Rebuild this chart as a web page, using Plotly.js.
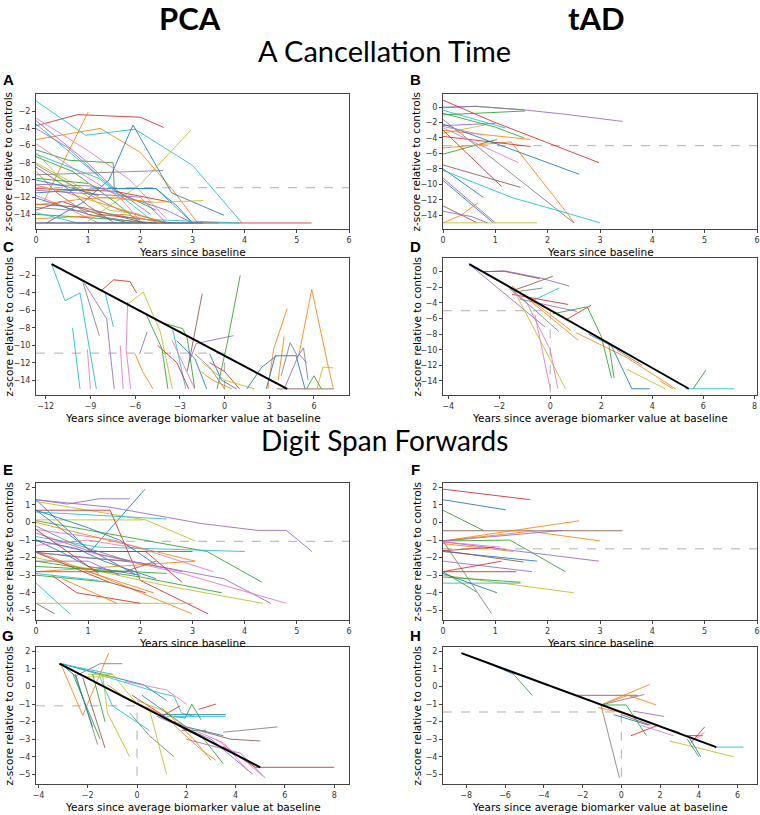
<!DOCTYPE html>
<html><head><meta charset="utf-8">
<script src="https://cdn.plot.ly/plotly-3.0.1.min.js"></script>
<style>html,body{margin:0;padding:0;background:#fff}#chart{width:760px;height:815px}</style>
</head><body><div id="chart"></div>
<script>
// ---------- DATA ----------
// Panel A: PCA, A Cancellation Time, years since baseline
const A_x = [[0,0.8,2.0,2.45],[0,1.23,2.0,2.6,3.1],[0,0.62,1.48,1.5,2.3],[0,0.95,1.9,3.0,3.95],[0.2,0.9,1.4,1.86,2.6,3.6],[1.0,2.0,2.97],[0,2.44],[0,1.0,1.8,2.5],[0,0.9,1.5,2.2],[0.15,1.0],[0,1.48,2.3,3.0],[0,1.5,2.6],[0,1.2,2.3,2.7,3.0],[0,0.8,1.6,2.5],[0,0.5,1.0,1.5],[0,1.2,2.3,3.2],[0,0.7,1.5,2.0],[0,0.5,1.2,2.0,2.6],[0,0.6,1.4,2.5],[0,1.1,2.5,3.0],[0,0.5,1.2],[0,1.0,1.8],[0,1.3,2.3],[0,0.8,2.0,3.5],[0,2.5,5.28],[0,2.0,3.2],[0,0.4,1.0,2.0],[0,0.9,2.1],[0,1.7,2.4],[0,0.5,1.4,2.0],[0,0.8,1.6,2.0],[0,1.0,2.0,2.5],[0,1.2,2.2,3.9],[0,1.0],[0,0.6,1.2],[0,0.6,1.2],[0,0.9,1.5,2.2],[0,1.3,2.0]];
const A_y = [[-3.7,-2.4,-2.7,-3.9],[-5.3,-4.0,-6.8,-11,-15],[-6.5,-7.7,-8.0,-11.2,-13.5],[-0.8,-4.8,-4.1,-8.3,-15],[-15,-12.6,-10,-3.6,-11.5,-14.1],[-14.8,-10.5,-4.2],[-9.4,-8.9],[-2.8,-6.6,-10,-14.5],[-3.1,-7.5,-11,-14],[-12.5,-2.1],[-3.5,-11.0,-11.0,-15],[-11,-11.3,-12.6],[-11.5,-11.0,-11.0,-13,-15],[-8.2,-11,-13.5,-15],[-8.5,-10.5,-13,-15],[-8,-12,-12.6,-12.4],[-7.3,-9,-12.5,-15],[-13.5,-12.5,-14,-14.5,-15],[-10.6,-11.5,-13,-15],[-10.5,-10.7,-13.5,-15],[-11.8,-13,-15],[-12.1,-14,-15],[-14,-14.5,-15],[-13.8,-15,-15,-15],[-15,-15,-15],[-15,-15,-15],[-9,-11.5,-14,-15],[-12.8,-13.2,-15],[-14.5,-14,-15],[-6.8,-10,-13.5,-14],[-5.8,-9,-12,-14.8],[-11.2,-11.6,-12.0,-15],[-7.0,-9.8,-14.6,-15],[-9.8,-10.4],[-4.0,-6.2,-9.5],[-10.0,-10.8,-11.8],[-12.9,-12.2,-12.0,-12.6],[-13.2,-13.8,-14.6]];
const A_c = "r o g c b l y k p o c r b y n l g r o p k b g c r b y n o l k p c g p b o y".split(" ");
const A_thr = -10.9;

// Panel B: tAD, A Cancellation Time, years since baseline
const B_x = [[0,0.64,1.6,2.3,3.43],[0,0.6,1.55],[0,0.96,2.98],[0,1.19],[0,1.57],[0,1.03],[0,1.0],[0,0.8],[0,1.67],[0,1.3,2.4,2.5],[0,1.67],[0,2.6],[0,1.44],[0,2.5],[0,1.12],[0,1.48],[0,0.77],[0,1.35,2.4,3.0],[0,1.0],[0,0.96],[0,0.65],[0,0.35,0.67],[0,1.8],[0,0.55,0.85],[0,1.0,1.55],[0,0.75]];
const B_y = [[0,0.1,-0.4,-0.9,-1.85],[-0.1,0.1,-0.35],[0.9,-1.9,-7.2],[-0.4,-2.7],[-1.0,-0.5],[-6.1,-4.2],[-2.4,-2.1],[-3.4,-2.3],[-3.0,-4.2],[-5.3,-4.5,-14,-15],[-3.8,-5.1],[-2.2,-8.7],[-2.7,-7.2],[-1.6,-15],[-3.0,-10.3],[-7.5,-10.4],[-8.0,-11.7],[-8.2,-11.8,-13.8,-15],[-9.2,-15],[-9.5,-15],[-12.8,-15],[-15,-14.0,-12.4],[-15,-15],[-13.5,-14.2,-15],[-0.8,-2.6,-4.0],[-2.5,-3.6]];
const B_c = "p y r c g g p l o o r b k y r n b c p b n o l p g k".split(" ");
const B_thr = -5.0;

// Panel C: PCA, A Cancellation Time, years since average biomarker value at baseline
const C_x = [[-11.6,-10.7,-9.7,-8.6],[-9.5,-8.4],[-9.4,-7.9,-7.7,-7.4],[-8.0,-7.45],[-8.3,-7.45,-6.35,-5.9],[-6.5,-5.45,-4.3,-3.5],[-6.5,-6.6,-6.3],[-5.7,-5.2],[-5.3,-4.2,-3.8],[-4.0,-2.8,-2.5,-2.0],[-2.5,-1.5],[-2.4,-1.9,0.6],[-0.5,0.15,1.05],[2.9,3.3,4.2],[5.0,5.85,6.9,7.3],[3.6,4.0],[3.8,4.4,4.9,5.3,5.6],[2.8,3.4,4.8,5.4],[3.5,7.3],[6.2,6.6,7.3],[-3.5,-2.6],[-3.5,-2.0],[-1.0,0.0,1.0],[-1.0,-0.2,0.8],[-10.2,-9.7],[-9.2,-9.0],[-6.0,-5.5,-4.8],[-4.5,-3.2,-2.4],[-3.2,-2.0,-1.2],[-2.0,-1.0,0.0],[-1.5,0.0,2.0],[1.5,2.5,3.5],[4.0,5.0,5.5],[-7.0,-6.8],[-1.6,-0.8,0.5],[5.5,6.0,6.5]];
const C_y = [[-0.7,-4.9,-4.0,-15],[-2.8,-8.9],[-2.9,-7.0,-10.4,-15],[-4.1,-7.9],[-3.8,-2.5,-2.7,-4.0],[-5.3,-3.9,-8.5,-15],[-5.0,-10.5,-15],[-11,-8.5],[-6.3,-10.4,-15],[-7.5,-8.1,-9.2,-15],[-13,-4.1],[-12,-9.8,-8.9],[-15,-10,-2.0],[-15,-10.4,-5.8],[-11,-3.6,-12,-15],[-14,-9.0],[-13.5,-9.7,-11.3,-10.3,-14],[-15,-11.2,-11.2,-15],[-15,-15],[-15,-12.5,-12.6],[-8,-15],[-9.5,-15],[-12,-13,-15],[-11,-14,-15],[-8,-15],[-10.5,-15],[-11,-13,-15],[-10,-12,-15],[-9.5,-11.5,-15],[-11,-12.5,-15],[-12,-14,-15],[-15,-12.5,-11.2],[-15,-11,-12],[-10,-15],[-13,-14,-15],[-15,-13.5,-15]];
const C_c = "c y p c r l k p g g n p g o o o y b n l c k r b c k o r b y l b p k o g".split(" ");
const C_fit_x = [-11.6, 4.2];
const C_fit_y = [-0.7, -15];
const C_thr = -10.9;

// Panel D: tAD, A Cancellation Time, years since average biomarker value at baseline
const D_x = [[-2.6,-1.8,-1.3,-0.4,0.75],[-2.6,-1.8,-1.3,-0.4],[-1.35,0.1],[-1.4,-0.3],[-0.8,0.35],[-1.5,0.7],[-1.2,1.05],[0.1,1.45,2.0,2.4],[0.6,1.6],[-3.2,-0.2],[-1.5,0.6],[-1.5,1.1],[-1.6,-0.9,0,0.3],[-1.6,0.35],[1.0,3.0,4.9],[5.6,6.1],[2.4,3.2,3.9],[5.3,7.2],[2.6,3.6],[4.3,4.8],[-0.6,0.0],[-1.0,0.8],[2.3,2.5],[3.0,4.5],[1.5,3.0]];
const D_y = [[0,0.1,-0.2,-0.8,-1.85],[0,0.05,-0.3,-0.9],[-2.3,-0.6],[-2.6,-2.1],[-3.9,-2.1],[-2.9,-4.2],[-3.5,-5.1],[-5.4,-4.5,-8.3,-13.6],[-6.2,-4.3],[1.0,-7.1],[-1.9,-15],[-1.8,-8.8],[-2.2,-4.1,-10,-15],[-2.0,-7.7],[-7.8,-11,-15],[-15,-12.6],[-9.5,-15,-15],[-15,-15],[-10,-12],[-14,-15],[-5.5,-15],[-3.0,-7.5],[-9.3,-13.6],[-12.5,-15],[-8,-10.5]];
const D_c = "p n n y c r p g r p l o k y o g b c y o k o g l b".split(" ");
const D_fit_x = [-3.17, 5.43];
const D_fit_y = [0.97, -15];
const D_thr = -5.0;

// Panel E: PCA, Digit Span Forwards, years since baseline
const E_x = [[0,1.4,2.6,3.15,4.25,4.8,5.29],[0,0.6,1.2,1.8],[0,1.04,2.09],[0,2.1,3.05],[0,2.05],[0,1.42,2.0,3.3],[0,1.5,2.5],[0,3.28,4.33],[0,1.2,4.0],[0,3.0],[0,1.5,3.4],[0,1.0,1.9],[0,1.4,3.05],[0,1.2,2.99],[0,0.65],[0,0.36],[0,3.0],[0.3,0.78,2.0],[0.5,1.55],[0,2.0,3.6,4.5],[0,2.8,4.8],[0,2.5,4.35],[0,2.0,3.56],[0,1.4,2.1],[1.0,2.25],[0,1.4],[0,1.2,2.8],[0,0.8,1.3,2.3],[0,0.9,1.8],[0,2.1,2.8],[0,0.5,1.0,2.0],[0,1.0,2.0],[0,3.05],[0,1.2],[0,2.5],[0,1.0,1.6],[0,1.7,2.3],[0,0.7,1.8],[0,1.2],[0,1.0,1.6,2.3]];
const E_y = [[1.3,0.88,0.25,-0.05,-0.45,-0.45,-1.65],[1.3,1.05,1.35,1.35],[1.3,-1.65,1.9],[1.2,0.15,-1.05],[0.15,0.15],[0.7,0.7,-3.3,-5.2],[0.6,0.35,0.2],[0.1,-1.65,-3.4],[-0.8,-1.4,-1.65],[-1.65,-1.65],[-0.4,-1.0,-2.8],[0.7,-1.5,-2.95],[0,-1.0,-2.2],[-1.65,-3.0,-5.2],[-3.45,-5.2],[-4.6,-5.2],[-4.6,-4.6],[-3.0,-4.0,-4.6],[-3.2,-4.6],[-1.7,-2.3,-3.2,-4.6],[-1.0,-2.9,-4.6],[-2.0,-3.6,-4.6],[-2.2,-3.1,-4.0],[-1.7,-3.4,-4.0],[-2.8,-4.0],[-3.0,-3.4],[-0.6,-1.8,-2.8],[-1.0,-1.5,-2.2,-3.2],[-1.7,-2.0,-2.2],[-1.65,-1.65,-3.4],[-1.0,-1.7,-2.5,-3.0],[-1.3,-1.0,-1.5],[-2.8,-2.2],[-2.9,-3.3],[-2.5,-2.9],[-2.2,-2.2,-3.0],[-2.8,-2.8,-2.2],[-0.2,-1.2,-2.2],[-0.4,-2.9],[0.7,-0.3,-1.0,-2.4]];
const E_c = "p p b l l r c g c n k b o o c n l r o p k l g r o g p b y r b k o c g p n y r b".split(" ");
const E_thr = -1.07;

// Panel F: tAD, Digit Span Forwards, years since baseline
const F_x = [[0,1.67],[0,1.2],[0,0.77],[0,1.28,2.34],[0,3.43],[0,2.6],[0,1.67,3.0],[0,2.28],[0,2.98],[0,0.93],[0,1.8],[0,1.54],[0,1.0],[0,1.35],[0,1.7],[0,1.12],[0,1.4],[0,2.5],[0,0.64],[0,1.48],[0,1.03],[0,1.48],[0,1.1]];
const F_y = [[1.9,1.3],[1.3,0.72],[0.7,-0.45],[-1.05,-1.0,-2.8],[-0.47,-0.47],[-1.05,0.1],[-1.05,-0.5,-1.05],[-1.05,-0.45],[-1.1,-2.2],[-1.05,-5.2],[-1.65,-2.2],[-1.6,-2.25],[-1.6,-1.4],[-1.2,-1.65],[-2.2,-2.8],[-2.8,-2.2],[-2.8,-2.8],[-3.0,-4.0],[-2.8,-3.95],[-3.45,-3.45],[-2.9,-4.0],[-3.1,-3.4],[-1.1,-1.4]];
const F_c = "r b g g n o o p p y b n r o p r r l g c b g k".split(" ");
const F_thr = -1.5;

// Panel G: PCA, Digit Span Forwards, years since average biomarker value at baseline
const G_x = [[-3.1,-2.2,-1.15],[-2.5,-1.5,-0.6],[-3.1,-1.7,0.26,1.2],[-3.0,1.0,1.5,1.8,2.3],[1.5,1.95,2.22,2.6],[1.0,1.75],[3.5,4.8,8.0],[0.9,3.6],[1.2,3.6],[-2.5,-1.6],[-2.6,-1.5],[-2.2,-1.3],[-2.0,-1.0,0.0],[-1.4,-1.2,-0.3],[-1.2,-0.5,1.0],[-0.5,1.2,2.0],[0.8,3.0,4.7],[1.5,3.5,4.5],[1.5,2.6,3.5],[3.5,5.7],[2.5,3.8,5.0],[-0.3,0.5,1.5],[0.5,1.2],[1.0,2.3,3.0],[-0.2,2.0],[-1.5,-1.0,0.5],[0.2,2.0,3.5],[2.0,4.2,5.2],[3.2,4.2,5.1],[-1.8,-1.3],[1.5,2.6,3.2],[0.0,1.3,2.2],[1.8,2.8],[2.5,3.2],[-3.1,-2.5,-1.8],[-2.8,-1.0],[-2.05,-0.96]];
const G_y = [[1.3,-1.65,1.9],[0.6,1.3,1.3],[1.3,0.8,0.1,-0.8],[1.3,-0.4,-0.55,-1.5,-1.7],[-1.7,-1.8,-1.0,-1.9],[-1.7,-1.1],[-3.4,-4.6,-4.6],[-1.6,-1.6],[-1.7,-1.7],[0.7,-3.3],[0.7,-3.0],[0.5,-3.5],[0.7,0.7,-1.0],[0.7,-1.5,-4.0],[0.1,-0.6,-1.6],[0.3,-0.2,-1.0],[-1.7,-3.0,-5.0],[-2.0,-3.2,-4.8],[-2.0,-2.8,-4.4],[-2.6,-2.3],[-2.5,-3.0,-3.1],[-1.5,-2.8,-4.0],[-1.3,-5.0],[-1.2,-3.0,-4.2],[-0.5,-2.5],[0.5,-1.1,-2.5],[-0.5,-2.3,-2.8],[-3.0,-3.8,-5.2],[-3.0,-4.0,-5.1],[0.7,-2.0],[-2.2,-3.6,-4.2],[-0.8,-1.5,-2.7],[-2.5,-2.5],[-1.3,-1.0],[1.3,0.6,-2.3],[1.2,0.7],[0.55,0.55]];
const G_c = "o p b c g r r b c y g n l l o k p k g y n y l o r c b p k g o l y r b c l".split(" ");
const G_fit_x = [-3.15, 5.0];
const G_fit_y = [1.3, -4.6];
const G_thr = -1.1;

// Panel H: tAD, Digit Span Forwards, years since average biomarker value at baseline
const H_x = [[-8.25,-6.6],[-6.6,-5.55],[-5.6,-4.6],[-2.4,0.85],[-1.05,1.46],[-1.05,0.35,1.8],[-1.05,1.2],[-1.05,0.25,1.3],[-1.05,-0.1],[-1.05,1.9],[-0.4,1.4],[0.0,1.5],[-1.2,0.5],[0.5,1.9],[1.0,2.7],[2.5,5.8],[4.8,6.3],[3.4,4.0],[3.5,4.1],[3.4,4.2],[3.6,4.3],[2.0,3.0],[0.6,2.2],[3.8,4.3]];
const H_y = [[1.9,1.25],[1.2,0.7],[0.75,-0.5],[-0.5,-0.5],[-1.05,0.12],[-1.05,-0.5,-1.05],[-1.05,-0.45],[-1.05,-1.05,-2.8],[-1.05,-5.2],[-1.05,-2.2],[-1.6,-2.2],[-1.6,-2.2],[-1.2,-1.6],[-2.8,-2.2],[-2.2,-2.8],[-3.1,-4.0],[-3.45,-3.45],[-3.0,-4.0],[-2.9,-4.0],[-2.8,-2.8],[-3.2,-2.3],[-2.3,-2.6],[-1.4,-1.7],[-3.0,-2.6]];
const H_c = "r b g n o o p g y p b n o r k l c g b r r y p k".split(" ");
const H_fit_x = [-8.25, 4.9];
const H_fit_y = [1.9, -3.45];
const H_thr = -1.45;

// tick values
const ticksZCancel = [-14,-12,-10,-8,-6,-4,-2];
const ticksZCancelB = [-14,-12,-10,-8,-6,-4,-2,0];
const ticksZDigit = [-5,-4,-3,-2,-1,0,1,2];
const ticksYears = [0,1,2,3,4,5,6];
const ticksC = [-12,-9,-6,-3,0,3,6];
const ticksD = [-4,-2,0,2,4,6,8];
const ticksG = [-4,-2,0,2,4,6,8];
const ticksH = [-8,-6,-4,-2,0,2,4,6];

// ---------- PRESENTATION ----------
const W = 760, H = 815;
const PAL = {b:'#1f77b4',o:'#ff7f0e',g:'#2ca02c',r:'#d62728',p:'#9467bd',n:'#8c564b',k:'#e377c2',y:'#7f7f7f',l:'#bcbd22',c:'#17becf'};
const colL = [36, 349], colR = [443, 757];
const rows = [[94,229],[258,395],[483,620],[647,784]];
const xTitleY = [252, 418, 643, 807];
const letterY = [80, 246, 469, 635];

const panels = [
  {id:'', xs:A_x, ys:A_y, cs:A_c, thr:A_thr, col:colL, row:rows[0], xr:[0,6], yr:[-15.7,0], xt:ticksYears, yt:ticksZCancel, cross:false},
  {id:'2', xs:B_x, ys:B_y, cs:B_c, thr:B_thr, col:colR, row:rows[0], xr:[0,6], yr:[-15.8,1.7], xt:ticksYears, yt:ticksZCancelB, cross:false},
  {id:'3', xs:C_x, ys:C_y, cs:C_c, thr:C_thr, col:colL, row:rows[1], xr:[-12.65,8.35], yr:[-15.7,0], xt:ticksC, yt:ticksZCancel, cross:true, fx:C_fit_x, fy:C_fit_y},
  {id:'4', xs:D_x, ys:D_y, cs:D_c, thr:D_thr, col:colR, row:rows[1], xr:[-4.2,8.1], yr:[-15.8,1.75], xt:ticksD, yt:ticksZCancelB, cross:true, fx:D_fit_x, fy:D_fit_y},
  {id:'5', xs:E_x, ys:E_y, cs:E_c, thr:E_thr, col:colL, row:rows[2], xr:[0,6], yr:[-5.55,2.25], xt:ticksYears, yt:ticksZDigit, cross:false},
  {id:'6', xs:F_x, ys:F_y, cs:F_c, thr:F_thr, col:colR, row:rows[2], xr:[0,6], yr:[-5.55,2.25], xt:ticksYears, yt:ticksZDigit, cross:false},
  {id:'7', xs:G_x, ys:G_y, cs:G_c, thr:G_thr, col:colL, row:rows[3], xr:[-4.1,8.6], yr:[-5.55,2.25], xt:ticksG, yt:ticksZDigit, cross:true, fx:G_fit_x, fy:G_fit_y},
  {id:'8', xs:H_x, ys:H_y, cs:H_c, thr:H_thr, col:colR, row:rows[3], xr:[-9.2,7.0], yr:[-5.55,2.25], xt:ticksH, yt:ticksZDigit, cross:true, fx:H_fit_x, fy:H_fit_y}
];

const traces = [];
const layout = {
  width: W, height: H, margin:{l:0,r:0,t:0,b:0}, paper_bgcolor:'#fff', plot_bgcolor:'#fff',
  showlegend:false, shapes:[], annotations:[], font:{family:'DejaVu Sans'}
};
const axBase = {showline:true, mirror:true, linecolor:'#444', linewidth:1, ticks:'outside', ticklen:3, tickwidth:1, tickcolor:'#444',
  showgrid:false, zeroline:false, tickfont:{family:'DejaVu Sans', size:8, color:'#333'}, fixedrange:true};
const fmt = v => v < 0 ? '\u2212' + Math.abs(v) : String(v);

panels.forEach(p => {
  const xa = 'x'+p.id, ya = 'y'+p.id;
  layout['xaxis'+p.id] = Object.assign({}, axBase, {domain:[p.col[0]/W, p.col[1]/W], anchor:ya, range:p.xr, tickvals:p.xt, ticktext:p.xt.map(fmt)});
  layout['yaxis'+p.id] = Object.assign({}, axBase, {domain:[1-p.row[1]/H, 1-p.row[0]/H], anchor:xa, range:p.yr, tickvals:p.yt, ticktext:p.yt.map(fmt)});
  const dx = p.cross ? [p.xr[0], 0, 0] : [p.xr[0], p.xr[1]];
  const dy = p.cross ? [p.thr, p.thr, p.yr[0]] : [p.thr, p.thr];
  traces.push({type:'scatter', mode:'lines', x:dx, y:dy, xaxis:xa, yaxis:ya,
    line:{color:'#b0b0b0', width:1, dash:'dash'}, hoverinfo:'skip'});
  p.xs.forEach((xs, i) => {
    traces.push({type:'scatter', mode:'lines', x:xs, y:p.ys[i], xaxis:xa, yaxis:ya,
      line:{color:PAL[p.cs[i]], width:1}, opacity:0.85, hoverinfo:'skip'});
  });
  if (p.fx) {
    traces.push({type:'scatter', mode:'lines', x:p.fx, y:p.fy, xaxis:xa, yaxis:ya,
      line:{color:'#000', width:2}, hoverinfo:'skip'});
  }
});

function ann(text, px, py, size, opts) {
  layout.annotations.push(Object.assign({text:text, xref:'paper', yref:'paper', x:px/W, y:1-py/H,
    xanchor:'center', yanchor:'middle', showarrow:false, font:{family:'DejaVu Sans', size:size, color:'#000'}}, opts||{}));
}
// headings
ann('<b>PCA</b>', 190, 18, 31, {font:{family:'Lato', size:31, color:'#000'}});
ann('<b>tAD</b>', 596, 18, 31, {font:{family:'Lato', size:31, color:'#000'}});
ann('A Cancellation Time', 384, 51, 29, {font:{family:'Lato', size:29, color:'#000'}});
ann('Digit Span Forwards', 384, 440, 28, {font:{family:'Lato', size:28, color:'#000'}});
// panel letters
const letters = ['A','B','C','D','E','F','G','H'];
letters.forEach((l, i) => ann('<b>'+l+'</b>', i % 2 === 0 ? 8 : 415, letterY[Math.floor(i/2)], 15, {font:{family:'Liberation Sans', size:15, color:'#000'}}));
// axis titles
const xTitles = ['Years since baseline','Years since average biomarker value at baseline','Years since baseline','Years since average biomarker value at baseline'];
xTitles.forEach((t, i) => { ann(t, (colL[0]+colL[1])/2, xTitleY[i], 10.5); ann(t, (colR[0]+colR[1])/2, xTitleY[i], 10.5); });
rows.forEach(r => {
  const cy = (r[0]+r[1])/2;
  ann('z-score relative to controls', 8, cy, 10.5, {textangle:-90});
  ann('z-score relative to controls', 416, cy, 10.5, {textangle:-90});
});

Plotly.newPlot('chart', traces, layout, {staticPlot:true, displayModeBar:false});
</script></body></html>
